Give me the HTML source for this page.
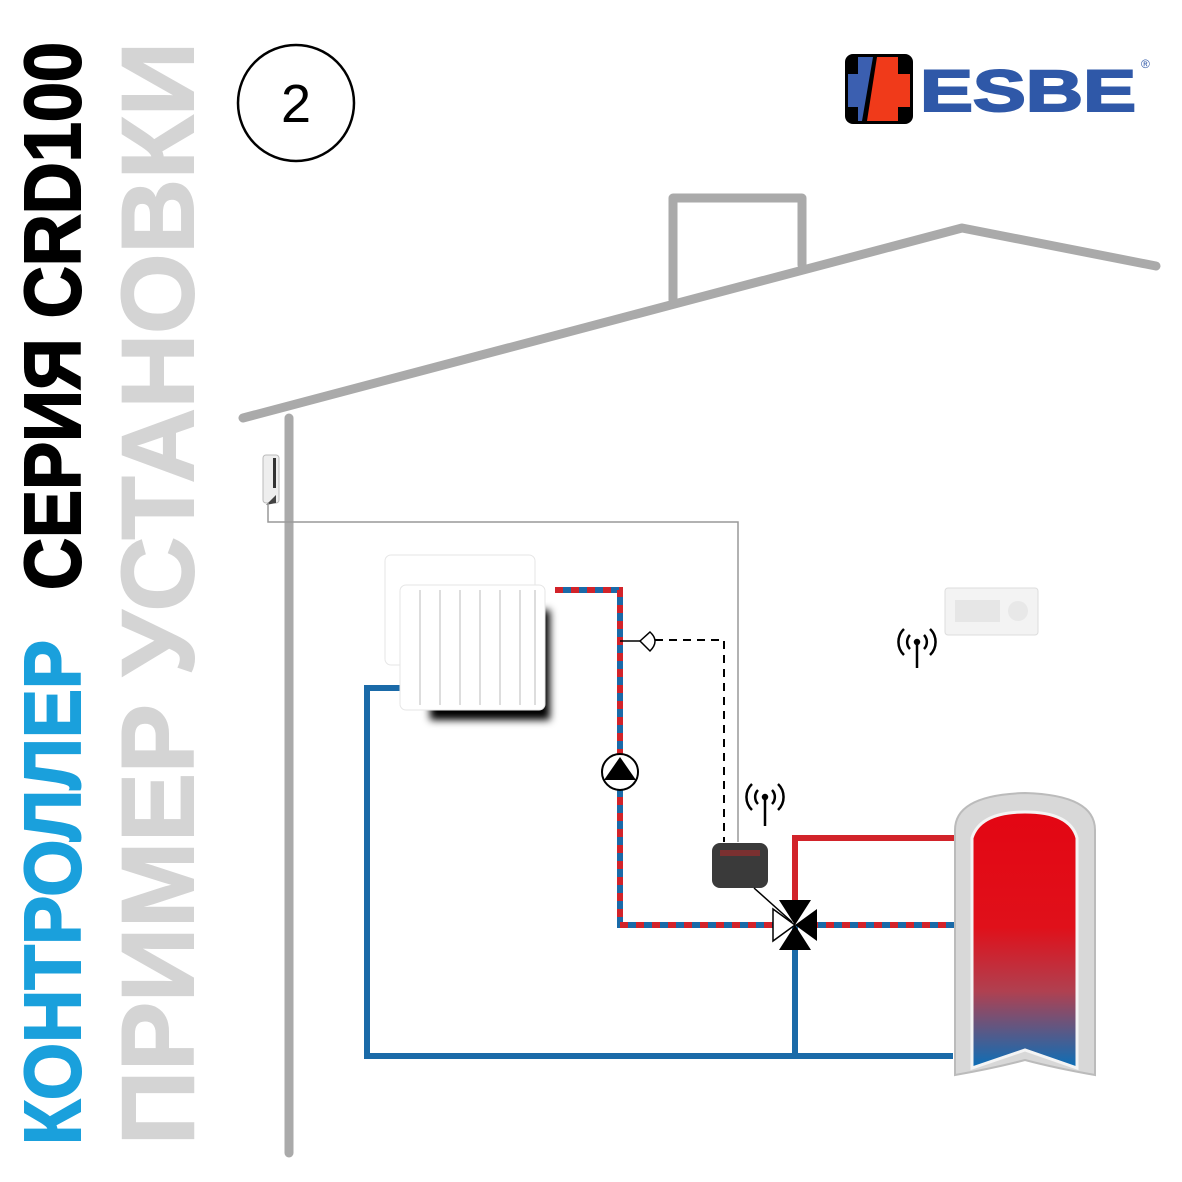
<!DOCTYPE html>
<html><head><meta charset="utf-8"><style>
html,body{margin:0;padding:0;background:#fff;width:1182px;height:1182px;overflow:hidden}
svg{display:block}
</style></head><body>
<svg width="1182" height="1182" viewBox="0 0 1182 1182" xmlns="http://www.w3.org/2000/svg">
<defs>
<linearGradient id="tg" x1="0" y1="0" x2="0" y2="1">
<stop offset="0" stop-color="#e30613"/><stop offset="0.45" stop-color="#e0101a"/>
<stop offset="0.7" stop-color="#b04050"/><stop offset="1" stop-color="#0a6fb8"/>
</linearGradient>
<filter id="bl"><feGaussianBlur stdDeviation="4"/></filter>
</defs>
<rect width="1182" height="1182" fill="#fff"/>

<g font-family="Liberation Sans, DejaVu Sans, sans-serif" font-weight="bold">
<text transform="translate(80,1145) rotate(-90)" font-size="80" fill="#1aa0dc" stroke="#1aa0dc" stroke-width="2" textLength="505" lengthAdjust="spacingAndGlyphs">КОНТРОЛЛЕР</text>
<text transform="translate(80,590) rotate(-90)" font-size="80" fill="#000" stroke="#000" stroke-width="2" textLength="548" lengthAdjust="spacingAndGlyphs">СЕРИЯ CRD100</text>
<text transform="translate(193,1145) rotate(-90)" font-size="102" fill="#d4d4d4" stroke="#d4d4d4" stroke-width="2" textLength="1103" lengthAdjust="spacingAndGlyphs">ПРИМЕР УСТАНОВКИ</text>
</g>

<circle cx="296" cy="103" r="58" fill="none" stroke="#000" stroke-width="2.5"/>
<text x="296" y="122" font-family="Liberation Sans, sans-serif" font-size="54" text-anchor="middle">2</text>

<rect x="845" y="54" width="68" height="70" rx="8" fill="#000"/>
<path d="M858 57 H873 L862 121 H858 V107 H848 V74 H858 Z" fill="#3b5fb0"/>
<path d="M877 57 H898 V74 H910 V107 H898 V121 H867 Z" fill="#f03a1a"/>
<text x="920" y="111" font-family="Liberation Sans, sans-serif" font-weight="bold" font-size="58" fill="#2f58a8" stroke="#2f58a8" stroke-width="2" textLength="216" lengthAdjust="spacingAndGlyphs">ESBE</text>
<text x="1141" y="68" font-family="Liberation Sans, sans-serif" font-size="12" fill="#2f58a8">®</text>

<g stroke="#aaa" stroke-width="9" fill="none" stroke-linecap="round" stroke-linejoin="round">
<polyline points="243,418 962,228 1156,266"/>
<polyline points="673,300 673,198 802,198 802,265"/>
<line x1="289" y1="418" x2="289" y2="1153"/>
</g>

<rect x="263" y="455" width="16" height="48" rx="3" fill="#eee" stroke="#bbb"/>
<rect x="273" y="458" width="3" height="30" fill="#333"/>
<path d="M266 505 l10 -10 v8z" fill="#444"/>
<polyline points="268,503 268,522 738,522 738,842" fill="none" stroke="#999" stroke-width="1.5"/>
<polyline points="655,640 724,640 724,842" fill="none" stroke="#000" stroke-width="2" stroke-dasharray="8,6"/>

<g fill="none" stroke-width="6">
<polyline points="400,688 367,688 367,1056 953,1056" stroke="#1a6aa8"/>
<line x1="795" y1="925" x2="795" y2="1056" stroke="#1a6aa8"/>
<polyline points="795,908 795,838 955,838" stroke="#d2232a"/>
<polyline points="555,590 620,590 620,925 780,925" stroke="#1a6aa8"/>
<polyline points="555,590 620,590 620,925 780,925" stroke="#d2232a" stroke-dasharray="8,8"/>
<line x1="810" y1="925" x2="955" y2="925" stroke="#1a6aa8"/>
<line x1="810" y1="925" x2="955" y2="925" stroke="#d2232a" stroke-dasharray="8,8"/>
</g>

<rect x="430" y="610" width="120" height="110" fill="#000" filter="url(#bl)"/>
<g fill="#fff" stroke="#e6e6e6">
<rect x="385" y="555" width="150" height="110" rx="6"/>
<rect x="400" y="585" width="145" height="125" rx="6"/>
</g>
<g stroke="#ddd" stroke-width="2">
<line x1="420" y1="590" x2="420" y2="705"/><line x1="440" y1="590" x2="440" y2="705"/>
<line x1="460" y1="590" x2="460" y2="705"/><line x1="480" y1="590" x2="480" y2="705"/>
<line x1="500" y1="590" x2="500" y2="705"/><line x1="520" y1="590" x2="520" y2="705"/>
<line x1="535" y1="590" x2="535" y2="705"/>
</g>

<line x1="620" y1="641" x2="640" y2="641" stroke="#000" stroke-width="1.5"/>
<path d="M640 641 L650 632 Q660 641 650 651 Z" fill="#fff" stroke="#000" stroke-width="1.5"/>

<circle cx="620" cy="772" r="18" fill="#fff" stroke="#000" stroke-width="2"/>
<path d="M604 780 L620 757 L636 780 Z" fill="#000"/>

<rect x="712" y="843" width="56" height="45" rx="8" fill="#3a3a3a"/>
<rect x="720" y="850" width="40" height="6" fill="#7a3030"/>
<line x1="754" y1="888" x2="792" y2="922" stroke="#000" stroke-width="1.5"/>

<path d="M773 909 L795 925 L773 941 Z" fill="#fff" stroke="#000" stroke-width="1.5"/>
<path d="M779 900 L811 900 L795 925 Z M795 925 L817 909 L817 941 Z M795 925 L811 950 L779 950 Z" fill="#000"/>

<g fill="none" stroke="#000" stroke-width="2.5">
<line x1="765" y1="797" x2="765" y2="826"/>
<circle cx="765" cy="797" r="2" fill="#000"/>
<path d="M758 790 a10 10 0 0 0 0 14 M772 790 a10 10 0 0 1 0 14 M752 784 a18 18 0 0 0 0 26 M778 784 a18 18 0 0 1 0 26"/>
<line x1="917" y1="642" x2="917" y2="668"/>
<circle cx="917" cy="642" r="2" fill="#000"/>
<path d="M910 635 a10 10 0 0 0 0 14 M924 635 a10 10 0 0 1 0 14 M904 629 a18 18 0 0 0 0 26 M930 629 a18 18 0 0 1 0 26"/>
</g>

<rect x="945" y="588" width="93" height="47" rx="3" fill="#f3f3f3" stroke="#ddd"/>
<rect x="955" y="600" width="45" height="22" fill="#e6e6e6"/>
<circle cx="1018" cy="611" r="10" fill="#e8e8e8"/>

<path d="M955 830 Q955 795 1025 793 Q1095 795 1095 830 L1095 1075 Q1055 1068 1025 1060 Q995 1068 955 1075 Z" fill="#d8d8d8" stroke="#bbb" stroke-width="2"/>
<path d="M972 838 Q980 812 1025 812 Q1070 812 1077 838 L1077 1068 L1025 1050 L972 1068 Z" fill="url(#tg)" stroke="#f4f4f4" stroke-width="3"/>
</svg>
</body></html>
